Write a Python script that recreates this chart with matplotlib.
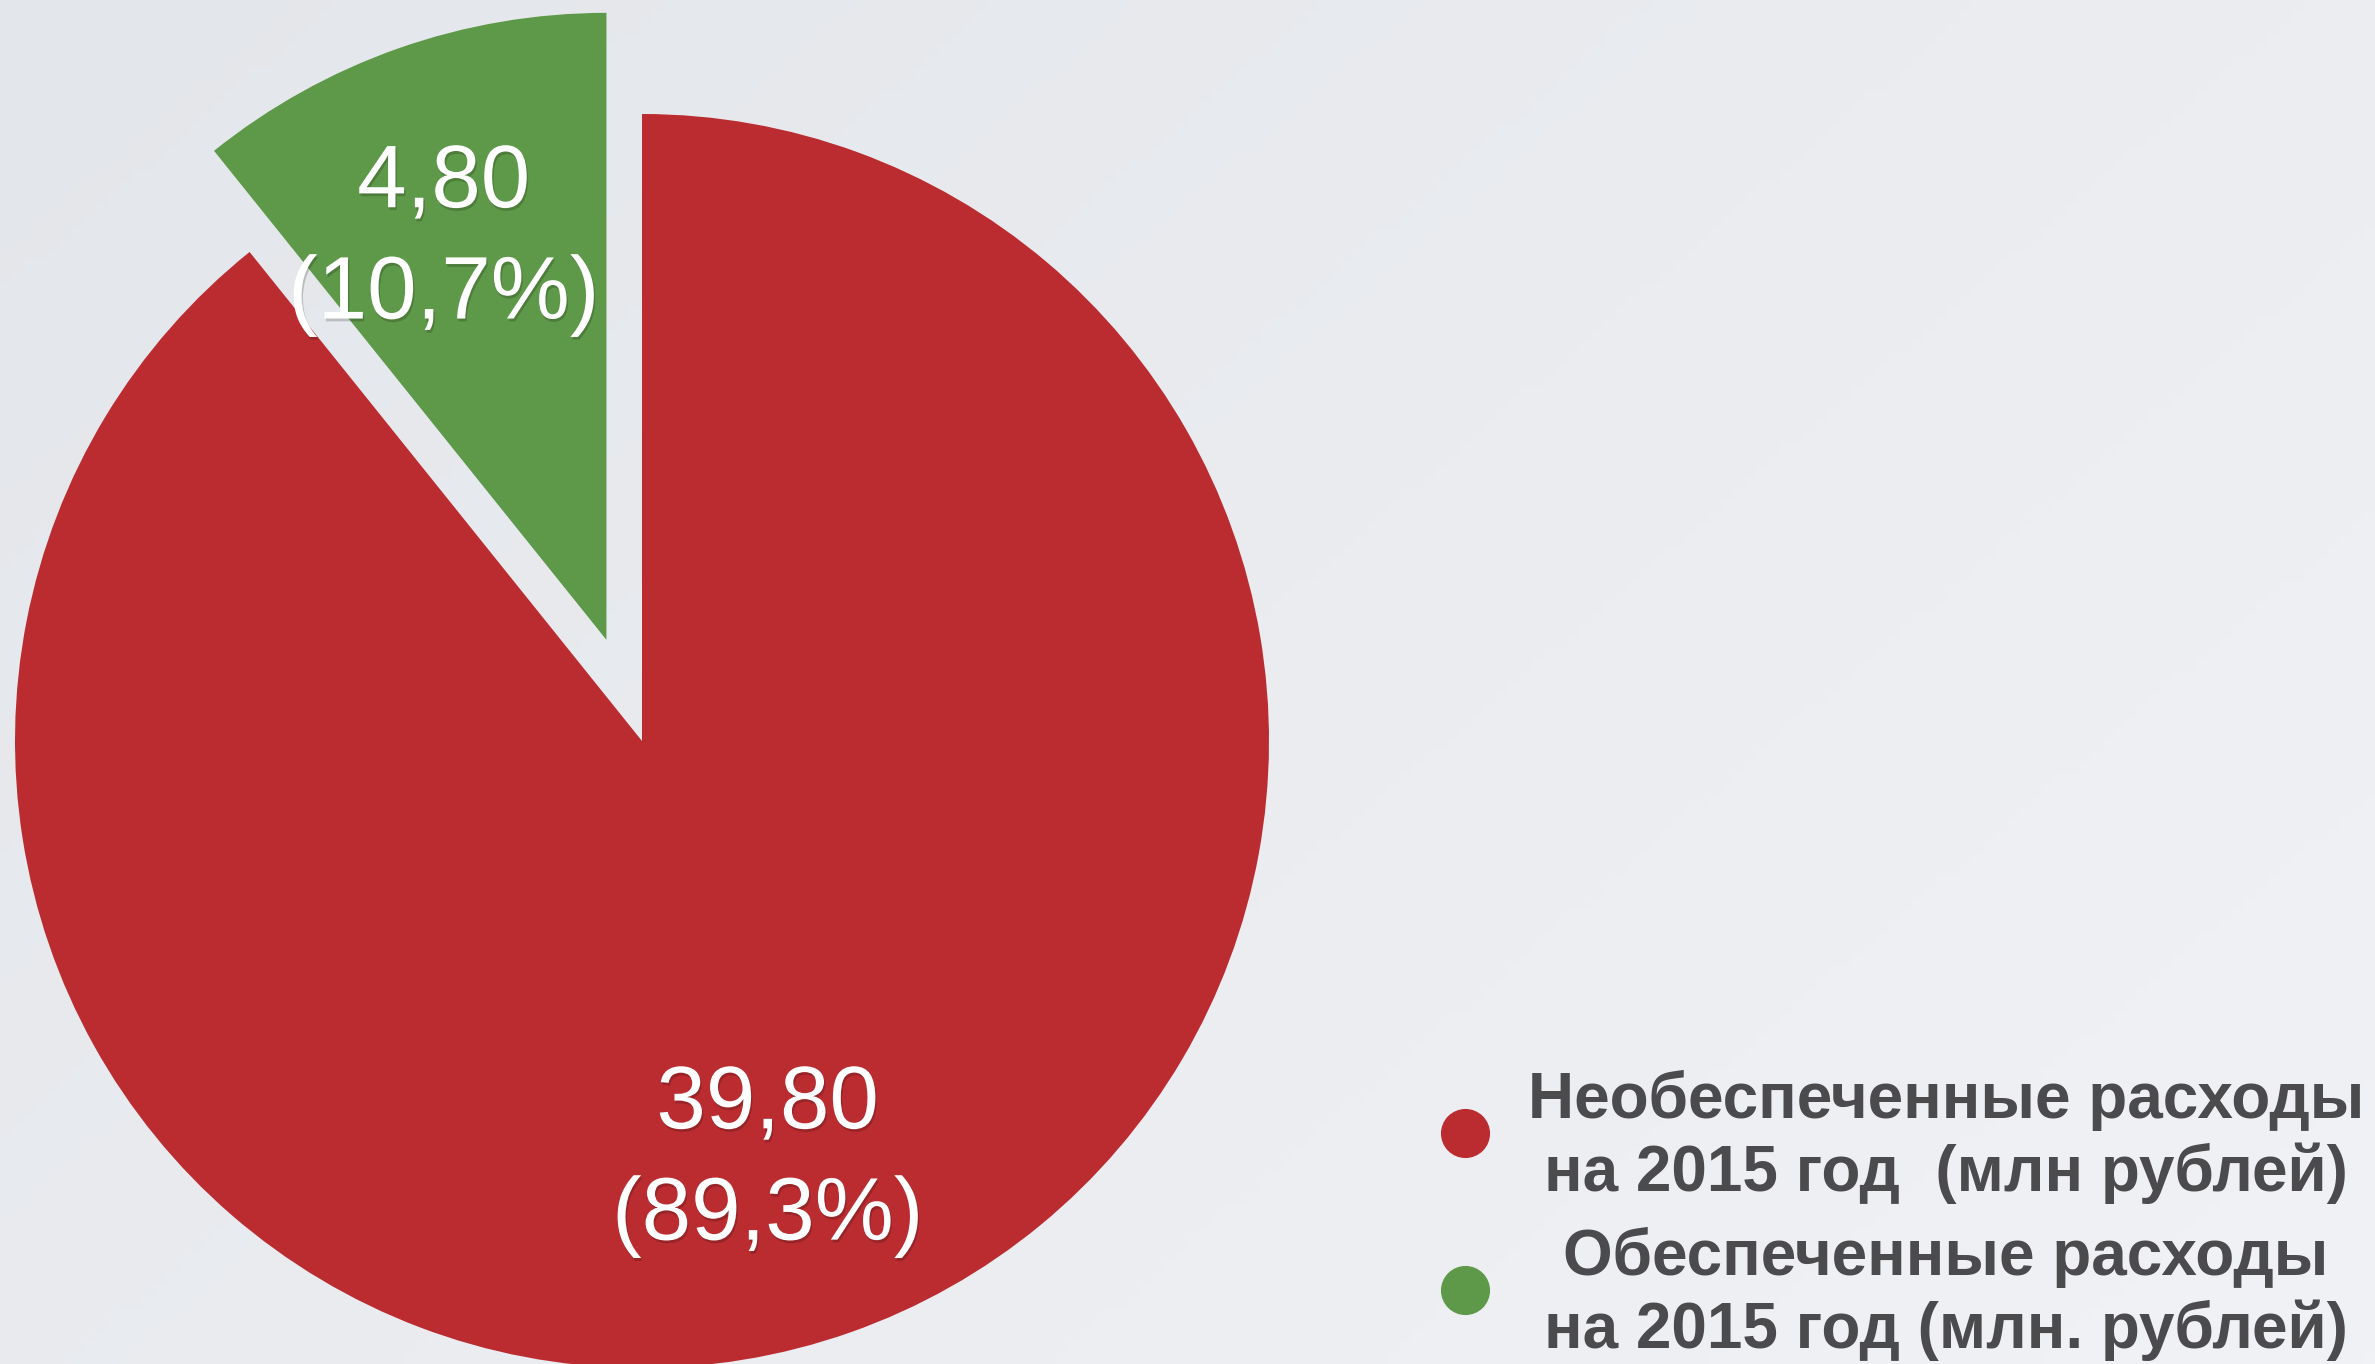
import numpy as np
import matplotlib
matplotlib.use("Agg")
import matplotlib.pyplot as plt
import matplotlib.patheffects as pe

# data
values = [4.80, 39.80]
value_labels = ["4,80", "39,80"]
pct_labels = ["10,7%", "89,3%"]
legend_labels = ["Необеспеченные расходы\nна 2015 год  (млн рублей)",
                 "Обеспеченные расходы\nна 2015 год (млн. рублей)"]
colors = ["#5e9849", "#bb2c31"]
legend_colors = ["#bb2c31", "#5e9849"]

W, H = 2375, 1364
fig = plt.figure(figsize=(W / 100, H / 100), dpi=100)
ax = fig.add_axes([0, 0, 1, 1])

# soft grey background gradient
gx = np.linspace(0, 1, 200)
gy = np.linspace(0, 1, 120)
GX, GY = np.meshgrid(gx, gy)
t = 0.6 * GX + 0.4 * GY
c0 = np.array([227, 230, 234]) / 255
c1 = np.array([241, 242, 246]) / 255
bg = c0[None, None, :] * (1 - t[..., None]) + c1[None, None, :] * t[..., None]
ax.imshow(bg, extent=[0, W, 0, H], origin="upper", zorder=0, aspect="auto")

labels = [v + "\n(" + p + ")" for v, p in zip(value_labels, pct_labels)]
R = 627
wedges, texts = ax.pie(values, colors=colors, startangle=90, counterclock=True,
                       explode=[0.171 * R, 0], center=(642, H - 741), radius=R,
                       labels=labels, labeldistance=0.71,
                       wedgeprops=dict(linewidth=0, zorder=2), frame=True)
ax.set_xlim(0, W)
ax.set_ylim(0, H)
ax.set_aspect("equal")
ax.axis("off")

shadow = [pe.withSimplePatchShadow(offset=(1, -2), shadow_rgbFace="black", alpha=0.18)]
nudge = [(-15, -20), (-22, 0)]
for t_, (dx, dy) in zip(texts, nudge):
    x0, y0 = t_.get_position()
    t_.set_position((x0 + dx, y0 + dy))
    t_.set_ha("center")
    t_.set_va("center")
    t_.set_color("white")
    t_.set_fontsize(64)
    t_.set_family("Liberation Sans")
    t_.set_linespacing(1.42)
    t_.set_zorder(5)
    t_.set_path_effects(shadow)

# legend
leg_y = [H - 1133, H - 1290]
for lab, col, y in zip(legend_labels, legend_colors, leg_y):
    ax.scatter([1465], [y], s=1250, color=col, zorder=4, linewidths=0)
    ax.text(1946, y - 4, lab, ha="center", va="center", multialignment="center",
            fontsize=46, fontweight="bold", color="#4b4b4d",
            family="Liberation Sans", linespacing=1.25, zorder=5)

fig.savefig("out.png", dpi=100)
